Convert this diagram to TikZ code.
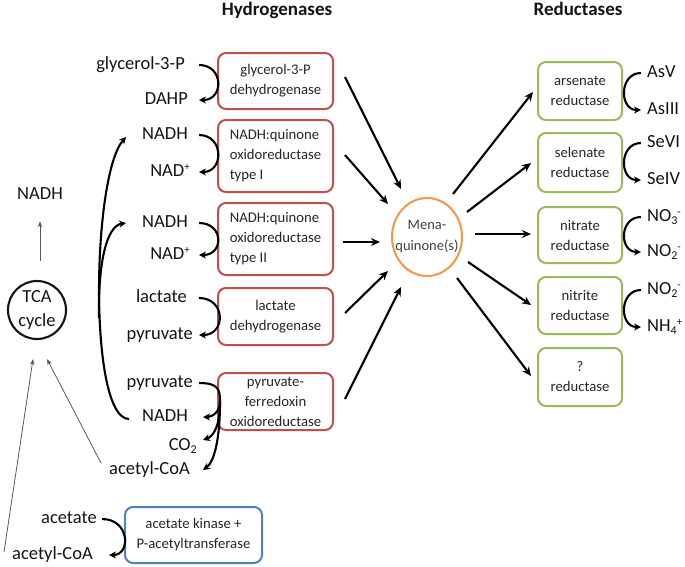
\documentclass[tikz,border=0pt]{standalone}
\usepackage{fontspec}
\setmainfont{Carlito}
\usetikzlibrary{arrows.meta,shapes.geometric,calc}
\definecolor{hred}{HTML}{C0504D}
\definecolor{rgreen}{HTML}{9BBB59}
\definecolor{kblue}{HTML}{4F81BD}
\definecolor{morange}{HTML}{F79646}
\definecolor{ink}{HTML}{141414}
\definecolor{boxink}{HTML}{262626}
\newcommand\supx[1]{\raisebox{0.62ex}{\fontsize{11}{11}\selectfont #1}}
\newcommand\subx[1]{\raisebox{-0.38ex}{\fontsize{12}{12}\selectfont #1}}
\tikzset{
  lab/.style={font=\fontsize{18.5}{20}\selectfont, text=ink, inner sep=1pt, text height=12.5pt, text depth=3.7pt},
  ttl/.style={font=\fontsize{19}{21}\selectfont\bfseries, text=ink, inner sep=0pt, anchor=base},
  boxbase/.style={rounded corners=8pt, line width=2pt, font=\fontsize{14.7}{20}\selectfont, text=boxink, align=center, inner sep=1pt},
  hbox/.style={boxbase, draw=hred, minimum width=115pt},
  gbox/.style={boxbase, draw=rgreen, minimum width=84pt},
  kbox/.style={boxbase, draw=kblue, minimum width=137pt, minimum height=56pt},
  arr/.style={line width=2.1pt, -{Stealth[length=9pt,width=8pt]}},
  carc/.style={line width=2.1pt, -{Stealth[length=7pt,width=7pt]}},
  cline/.style={line width=2.1pt},
  garr/.style={line width=0.8pt, draw=black!65, -{Stealth[length=6pt,width=4.5pt]}},
}
\begin{document}
\begin{tikzpicture}[x=1pt,y=-1pt]
\useasboundingbox (0,0) rectangle (685,566);
\fill[white] (0,0) rectangle (685,566);

% titles
\node[ttl] (th) at (277,15) {Hydrogenases};
\node[ttl] (tr) at (578,15) {Reductases};

% hydrogenase boxes
\node[hbox, minimum height=56pt] (r1) at (275.5,81) {glycerol-3-P\\dehydrogenase};
\node[hbox, minimum height=72pt, align=left] (r2) at (275.5,156) {NADH:quinone\\oxidoreductase\\type I};
\node[hbox, minimum height=72pt, align=left] (r3) at (275.5,239) {NADH:quinone\\oxidoreductase\\type II};
\node[hbox, minimum height=57pt] (r4) at (275.5,316.5) {lactate\\dehydrogenase};
\node[hbox, minimum height=57pt] (r5) at (275.5,401.5) {pyruvate-\\ferredoxin\\oxidoreductase};

% reductase boxes
\node[gbox, minimum height=58pt] (g1) at (580,91) {arsenate\\reductase};
\node[gbox, minimum height=59pt] (g2) at (580,162.5) {selenate\\reductase};
\node[gbox, minimum height=56pt] (g3) at (580,235) {nitrate\\reductase};
\node[gbox, minimum height=57pt] (g4) at (580,305.5) {nitrite\\reductase};
\node[gbox, minimum height=58pt] (g5) at (580,377) {?\\reductase};

% acetate kinase box
\node[kbox] (kb) at (193.5,535) {acetate kinase +\\P-acetyltransferase};

% menaquinone
\node[ellipse, draw=morange, line width=2pt, minimum width=70pt, minimum height=78pt, inner sep=0pt] (mena) at (427,237) {};
\node[font=\fontsize{14.5}{21}\selectfont, text=black!75, align=center, inner sep=0pt] (menat) at (mena.center) {Mena-\\quinone(s)};

% TCA cycle
\node[circle, draw=ink, line width=2.1pt, minimum size=58pt, inner sep=0pt] (tca) at (37,310) {};
\node[font=\fontsize{18.5}{24}\selectfont, text=ink, align=center, inner sep=0pt] (tcat) at (tca.center) {TCA\\cycle};
\node[lab] (nadh0) at (40,195) {NADH};

% left labels
\node[lab, anchor=east] (glyc) at (186,65) {glycerol-3-P};
\node[lab, anchor=east] (dahp) at (189,100) {DAHP};
\node[lab, anchor=east] (nadh1) at (189,135) {NADH};
\node[lab, anchor=east] (nadp1) at (191,172) {NAD\supx{+}};
\node[lab, anchor=east] (nadh2) at (189,223) {NADH};
\node[lab, anchor=east] (nadp2) at (191,255) {NAD\supx{+}};
\node[lab, anchor=east] (lact) at (188,298) {lactate};
\node[lab, anchor=east] (pyr1) at (194,335) {pyruvate};
\node[lab, anchor=east] (pyr2) at (194,383) {pyruvate};
\node[lab, anchor=east] (nadh3) at (189,417) {NADH};
\node[lab, anchor=east] (co2) at (198,446) {CO\subx{2}};
\node[lab, anchor=east] (acoa1) at (191,470) {acetyl-CoA};
\node[lab, anchor=east] (acet) at (98,519) {acetate};
\node[lab, anchor=east] (acoa2) at (94,555) {acetyl-CoA};

% right labels
\node[lab, anchor=west] (asv) at (646,73) {AsV};
\node[lab, anchor=west] (as3) at (646,110) {AsIII};
\node[lab, anchor=west] (se6) at (646,143) {SeVI};
\node[lab, anchor=west] (se4) at (646,180) {SeIV};
\node[lab, anchor=west] (no3) at (646,217) {NO\subx{3}\supx{-}};
\node[lab, anchor=west] (no2a) at (646,252) {NO\subx{2}\supx{-}};
\node[lab, anchor=west] (no2b) at (646,290) {NO\subx{2}\supx{-}};
\node[lab, anchor=west] (nh4) at (646,327) {NH\subx{4}\supx{+}};

% arrows into menaquinone
\draw[arr] ($(r1.east)+(11,-4)$) -- ($(mena.center)+(-26,-48)$);
\draw[arr] ($(r2.east)+(11,-1)$) -- ($(mena.center)+(-39,-33)$);
\draw[arr] ($(r3.east)+(9,3)$) -- ($(mena.center)+(-47,5)$);
\draw[arr] ($(r4.east)+(11,-3.5)$) -- ($(mena.center)+(-39,34)$);
\draw[arr] ($(r5.east)+(11,-2.5)$) -- ($(mena.center)+(-26,50)$);

% arrows out of menaquinone
\draw[arr] ($(mena.center)+(26,-43)$) -- ($(g1.west)+(-4,1)$);
\draw[arr] ($(mena.center)+(40,-25)$) -- ($(g2.west)+(-6,0.5)$);
\draw[arr] ($(mena.center)+(48,-3)$) -- ($(g3.west)+(-6,-1)$);
\draw[arr] ($(mena.center)+(41,25)$) -- ($(g4.west)+(-6,-0.5)$);
\draw[arr] ($(mena.center)+(30,41)$) -- ($(g5.west)+(-6,-1)$);

% left conversion arcs
\coordinate (ax) at (199,0);
\coordinate (ax2) at (203,0);
\draw[carc] (glyc.east -| ax) .. controls +(25,0) and +(25,0) .. (dahp.east -| ax);
\draw[carc] (nadh1.east -| ax) .. controls +(25,0) and +(25,0) .. (nadp1.east -| ax);
\draw[carc] (nadh2.east -| ax) .. controls +(25,0) and +(25,0) .. (nadp2.east -| ax);
\draw[carc] (lact.east -| ax) .. controls +(27,0) and +(27,0) .. (pyr1.east -| ax);
\coordinate (br) at (220,402);
\draw[cline] (pyr2.east -| ax) .. controls +(20,0) and (220,390) .. (br);
\draw[carc] (br) .. controls (220,412) and (212,417) .. (nadh3.east -| ax2);
\draw[carc] (br) .. controls (220,425) and (214,436) .. ($(co2.east -| ax2)+(0,-6)$);
\draw[carc] (br) .. controls (220,440) and (214,462) .. (acoa1.east -| ax2);
\draw[carc] ($(acet.east)+(4,0)$) .. controls +(28,0) and +(22,0) .. ($(acoa2.east)+(15,0)$);

% right conversion arcs
\coordinate (bx) at (641,0);
\draw[carc] (asv.west -| bx) .. controls +(-22,0) and +(-22,0) .. (as3.west -| bx);
\draw[carc] (se6.west -| bx) .. controls +(-22,0) and +(-22,0) .. (se4.west -| bx);
\draw[carc] (no3.west -| bx) .. controls +(-22,0) and +(-22,0) .. (no2a.west -| bx);
\draw[carc] (no2b.west -| bx) .. controls +(-22,0) and +(-22,0) .. (nh4.west -| bx);

% long NADH recycling curves
\coordinate (bj) at (99,318);
\draw[carc] ($(nadh3.west)+(-12,2)$) .. controls (88,419) and (92,175) .. ($(nadh1.west)+(-15,2)$);
\draw[carc] (bj) .. controls (98,265) and (106,226) .. ($(nadh2.west)+(-15,0)$);

% thin grey arrows around TCA cycle
\draw[garr] ($(tca.north)+(3,-19)$) -- ($(nadh0.south)+(0,17)$);
\draw[garr] ($(acoa2.west)+(-7,-3)$) -- ($(tca.south)+(-4,19)$);
\draw[garr] ($(acoa1.west)+(-7,-7)$) -- ($(tca.south)+(10,19)$);
\end{tikzpicture}
\end{document}
